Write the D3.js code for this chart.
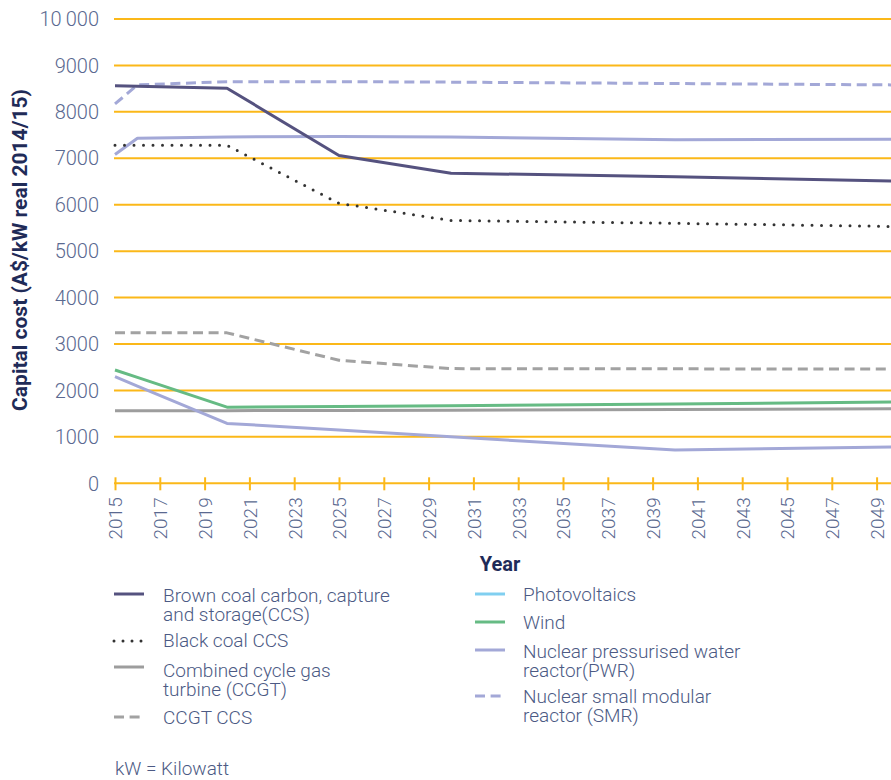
<!DOCTYPE html>
<html>
<head>
<meta charset="utf-8">
<script src="https://cdn.jsdelivr.net/npm/d3@7"></script>
<style>
  html, body { margin: 0; padding: 0; background: #ffffff; }
  svg { display: block; font-family: Roboto, "Noto Sans", sans-serif; }
</style>
</head>
<body>
<svg id="chart" width="891" height="780"></svg>
<script>
// Capital cost projections, A$/kW (real 2014/15)
const years = [2015, 2016, 2020, 2025, 2030, 2040, 2050];

const brownCoalCCS = [8560, 8550, 8510, 7060, 6680, 6600, 6510];
const blackCoalCCS = [7280, 7280, 7280, 6030, 5660, 5600, 5530];
const ccgt         = [1560, 1560, 1565, 1570, 1575, 1590, 1605];
const ccgtCCS      = [3245, 3245, 3240, 2650, 2470, 2465, 2460];
const photovoltaics = [2296, 2095, 1290, 1148, 1000, 715, 785];
const wind         = [2440, 2280, 1640, 1655, 1670, 1710, 1750];
const nuclearPWR   = [7080, 7430, 7460, 7470, 7460, 7400, 7410];
const nuclearSMR   = [8170, 8580, 8650, 8650, 8640, 8610, 8580];

const yTicks = [0, 1000, 2000, 3000, 4000, 5000, 6000, 7000, 8000, 9000, 10000];
const xTicks = d3.range(2015, 2050, 2);

const legendLeft = [
  ["Brown coal carbon, capture", "and storage(CCS)"],
  ["Black coal CCS"],
  ["Combined cycle gas", "turbine (CCGT)"],
  ["CCGT CCS"]
];
const legendRight = [
  ["Photovoltaics"],
  ["Wind"],
  ["Nuclear pressurised water", "reactor(PWR)"],
  ["Nuclear small modular", "reactor (SMR)"]
];

// line styles
const styles = {
  brown: { stroke: "#55527f", dash: null, cap: "butt" },
  black: { stroke: "#333333", dash: "0 9.5", cap: "round" },
  ccgt:  { stroke: "#9d9d9d", dash: null, cap: "butt" },
  ccgtCCS: { stroke: "#a2a2a2", dash: "10 5.6", cap: "butt" },
  pvKey: { stroke: "#80cff0", dash: null, cap: "butt" },
  pvLine: { stroke: "#a3a8d7", dash: null, cap: "butt" },
  wind:  { stroke: "#66bb84", dash: null, cap: "butt" },
  pwr:   { stroke: "#a3a8d7", dash: null, cap: "butt" },
  smr:   { stroke: "#a3a8d7", dash: "10 5.6", cap: "butt" }
};

const series = [
  { values: ccgt, style: styles.ccgt },
  { values: ccgtCCS, style: styles.ccgtCCS },
  { values: photovoltaics, style: styles.pvLine },
  { values: wind, style: styles.wind },
  { values: nuclearSMR, style: styles.smr },
  { values: nuclearPWR, style: styles.pwr },
  { values: blackCoalCCS, style: styles.black },
  { values: brownCoalCCS, style: styles.brown }
];

const svg = d3.select("#chart");
const W = 891;

const x = d3.scaleLinear().domain([2015, 2050]).range([115, 899]);
const y = d3.scaleLinear().domain([0, 10000]).range([483.3, 19]);

const gold = "#fbb819";
const tickColor = "#5a6990";
const navy = "#1f2b58";

// horizontal gridlines
svg.append("g")
  .selectAll("line")
  .data(yTicks.filter(d => d > 0))
  .join("line")
  .attr("x1", 114).attr("x2", W)
  .attr("y1", d => y(d)).attr("y2", d => y(d))
  .attr("stroke", gold).attr("stroke-width", 2);

// y-axis labels
const fmt = d => d >= 10000 ? d3.format(",")(d).replace(",", "\u2009") : String(d);
svg.append("g")
  .selectAll("text")
  .data(yTicks)
  .join("text")
  .attr("x", 99)
  .attr("y", d => y(d))
  .attr("dy", "0.36em")
  .attr("text-anchor", "end")
  .attr("fill", tickColor)
  .attr("font-size", 20)
  .attr("font-weight", 300)
  .text(fmt);

// x axis along zero
const xAxis = d3.axisBottom(x)
  .tickValues(xTicks)
  .tickFormat(d3.format("d"))
  .tickSize(7)
  .tickSizeOuter(0);

const gx = svg.append("g")
  .attr("transform", `translate(0,${y(0)})`)
  .call(xAxis);
gx.select(".domain").remove();
gx.insert("line", ":first-child")
  .attr("x1", 114).attr("x2", W)
  .attr("y1", 0).attr("y2", 0)
  .attr("stroke", gold).attr("stroke-width", 2);
gx.selectAll(".tick line")
  .attr("y1", -6).attr("y2", 7)
  .attr("stroke", gold).attr("stroke-width", 2);
gx.selectAll(".tick text")
  .attr("fill", tickColor)
  .attr("font-size", 19)
  .attr("font-weight", 300)
  .attr("font-family", "Roboto, sans-serif")
  .attr("text-anchor", "end")
  .attr("transform", "translate(0,14) rotate(-90)")
  .attr("x", 0).attr("y", 0)
  .attr("dy", "0.36em");

// axis titles
svg.append("text")
  .attr("transform", `translate(27,250) rotate(-90)`)
  .attr("text-anchor", "middle")
  .attr("fill", navy)
  .attr("font-size", 21)
  .attr("font-weight", 700)
  .text("Capital cost (A$/kW real 2014/15)");

svg.append("text")
  .attr("x", 500).attr("y", 571)
  .attr("text-anchor", "middle")
  .attr("fill", navy)
  .attr("font-size", 20)
  .attr("font-weight", 700)
  .text("Year");

// series lines
const line = d3.line()
  .x((d, i) => x(years[i]))
  .y(d => y(d));

svg.append("defs").append("clipPath").attr("id", "plotClip")
  .append("rect").attr("x", 100).attr("y", 0).attr("width", W - 100).attr("height", 500);

svg.append("g").attr("clip-path", "url(#plotClip)")
  .selectAll("path")
  .data(series)
  .join("path")
  .attr("d", d => line(d.values))
  .attr("fill", "none")
  .attr("stroke", d => d.style.stroke)
  .attr("stroke-width", 3)
  .attr("stroke-linecap", d => d.style.cap)
  .attr("stroke-linejoin", "round")
  .attr("stroke-dasharray", d => d.style.dash);

// legend
const legendText = "#4c5a84";
const keyStylesLeft = [styles.brown, styles.black, styles.ccgt, styles.ccgtCCS];
const keyStylesRight = [styles.pvKey, styles.wind, styles.pwr, styles.smr];
const leftKeyY = [594, 641, 667, 717];
const leftTextY = [601.7, 647.3, 677.3, 724];
const rightKeyY = [594, 622, 650, 696];
const rightTextY = [600.7, 629.3, 658.3, 703.3];

function drawLegend(entries, keys, keyY, textY, kx, tx) {
  const g = svg.append("g");
  entries.forEach((lines, i) => {
    const s = keys[i];
    g.append("line")
      .attr("x1", kx).attr("x2", kx + 30)
      .attr("y1", keyY[i]).attr("y2", keyY[i])
      .attr("stroke", s.stroke)
      .attr("stroke-width", 3)
      .attr("stroke-linecap", s.cap)
      .attr("stroke-dasharray", s.dash === "0 9.5" ? "0 9" : s.dash);
    const t = g.append("text")
      .attr("x", tx).attr("y", textY[i])
      .attr("fill", legendText)
      .attr("font-size", 19)
      .attr("font-weight", 300);
    lines.forEach((ln, j) => {
      t.append("tspan").attr("x", tx).attr("dy", j === 0 ? 0 : 19).text(ln);
    });
  });
}

drawLegend(legendLeft, keyStylesLeft, leftKeyY, leftTextY, 114, 163);
drawLegend(legendRight, keyStylesRight, rightKeyY, rightTextY, 475, 523);

svg.append("text")
  .attr("x", 115).attr("y", 775)
  .attr("fill", legendText)
  .attr("font-size", 19)
  .attr("font-weight", 300)
  .text("kW = Kilowatt");
</script>
</body>
</html>
